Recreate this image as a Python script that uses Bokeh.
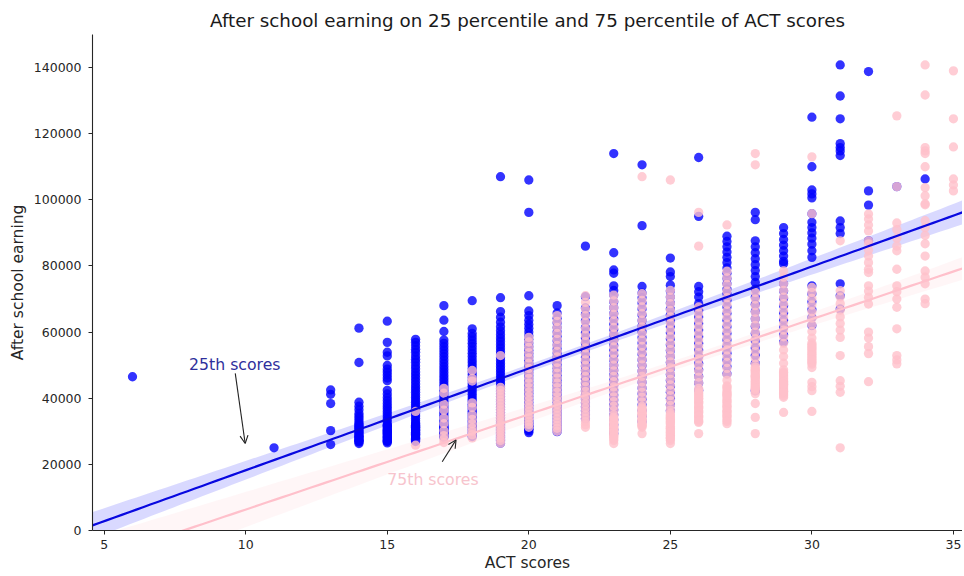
import numpy as np
from bokeh.plotting import figure
from bokeh.models import Range1d, Label, Arrow, OpenHead, FixedTicker, BasicTickFormatter, ColumnDataSource
from bokeh.embed import file_html
from bokeh.resources import INLINE

# ---------------- data (earnings in thousands of dollars) ----------------
# After-school earnings of colleges, grouped by the 25th-percentile ACT score
b06 = [46.5]
b11 = [25.0]
b13 = [42.5, 41.2, 38.4, 30.2, 26.0]
b14 = [61.2, 50.8, 38.8, 37.6, 36.5, 35.4, 34.6, 33.9, 33.1, 32.4, 31.6, 30.9, 30.1, 29.3, 28.5, 27.7, 27.0, 26.3,
       26.8, 27.3, 28.1, 28.9, 29.7, 30.5, 31.3, 32.0, 27.4, 28.4]
b15 = [63.3, 56.9, 53.9, 52.8, 49.9, 48.8, 47.9, 47.0, 46.1, 45.3, 42.4, 41.3, 40.2, 39.3, 38.4, 37.6, 36.8, 36.0,
       35.2, 34.4, 33.6, 32.8, 32.0, 31.2, 30.4, 29.6, 28.8, 28.0, 27.2, 26.5,
       26.9, 27.6, 28.4, 29.2, 30.0, 30.8, 31.6, 27.1, 28.2, 29.4, 30.2, 31.8]
b16 = [57.8, 56.9, 55.9, 54.8, 53.9, 52.8, 51.8, 50.9, 49.8, 48.9, 47.9, 47.0, 46.1, 45.2, 44.3, 43.4, 42.6, 41.8,
       41.0, 40.2, 39.5, 38.8, 38.1, 37.4, 36.7, 36.0, 35.3, 34.6, 33.9, 33.2, 32.5, 31.8, 31.1, 30.4, 29.7, 29.0,
       28.3, 27.6, 26.9, 27.2, 28.0, 28.7, 29.4, 30.1, 30.8, 31.5, 32.2, 27.8, 29.0, 30.4, 31.2]
b17 = [68.0, 63.6, 60.2, 57.6, 56.6, 55.6, 54.6, 53.6, 52.6, 51.6, 50.6, 49.6, 48.7, 47.8, 46.9, 46.0, 45.1, 44.2,
       43.4, 42.6, 41.8, 41.0, 40.2, 39.4, 38.7, 38.0, 37.3, 36.6, 35.9, 35.2, 34.5, 33.8, 33.1, 32.4, 31.7, 31.0,
       30.3, 29.6, 28.9, 28.2, 28.5, 29.2, 29.9, 30.6, 31.4, 32.1, 29.5, 30.9]
b18 = [69.5, 61.0, 59.6, 58.6, 57.6, 56.6, 55.6, 54.6, 53.6, 52.6, 51.6, 50.7, 49.8, 48.9, 48.0, 47.1, 46.2, 45.3,
       44.4, 43.6, 42.8, 42.0, 41.2, 40.4, 39.6, 38.9, 38.2, 37.5, 36.8, 36.1, 35.4, 34.7, 34.0, 33.3, 32.6, 31.9,
       31.2, 30.5, 29.8, 29.1, 28.4]
b19 = [107.0, 70.4, 66.2, 64.5, 63.0, 61.6, 60.4, 59.3, 58.2, 57.2, 56.2, 55.2, 54.2, 53.3, 52.4, 51.5, 50.6, 49.7,
       48.8, 47.9, 47.0, 46.1, 45.3, 44.5, 43.7, 42.9, 42.1, 41.3, 40.5, 39.7, 38.9, 38.1, 37.3, 36.5, 35.7, 34.9,
       34.1, 33.3, 32.5, 31.7, 30.9, 30.1, 29.3, 28.5, 27.7, 26.4, 27.1, 28.1, 28.9, 29.7, 30.5, 31.3, 32.1, 27.4]
b20 = [106.0, 96.2, 71.0, 66.4, 65.0, 63.6, 62.4, 61.2, 60.0, 58.9, 57.8, 56.7, 55.6, 54.5, 53.5, 52.5, 51.5, 50.5,
       49.5, 48.6, 47.7, 46.8, 45.9, 45.0, 44.1, 43.2, 42.3, 41.4, 40.5, 39.6, 38.7, 37.8, 36.9, 36.0, 35.1, 34.2,
       33.3, 32.4, 31.5, 30.6, 29.6, 30.1, 31.0, 31.9, 32.8, 30.6, 31.5]
b21 = [68.0, 65.8, 64.2, 62.8, 61.4, 60.0, 58.7, 57.4, 56.1, 54.9, 53.7, 52.5, 51.3, 50.2, 49.1, 48.0, 46.9, 45.8,
       44.8, 43.8, 42.8, 41.8, 40.8, 39.8, 38.8, 37.8, 36.8, 35.8, 34.8, 33.8, 32.8, 31.8, 30.8, 29.9]
b22 = [86.0, 70.7, 67.3, 65.4, 63.4, 61.4, 59.8, 58.2, 56.7, 55.2, 53.8, 52.4, 51.0, 49.7, 48.4, 47.1, 45.8, 44.6,
       43.4, 42.2, 41.0, 39.8, 38.6, 37.4, 36.2, 35.0, 33.8]
b23 = [114.0, 84.0, 78.8, 77.8, 74.0, 72.6, 71.2, 69.2, 67.4, 65.6, 64.0, 62.4, 60.8, 59.2, 57.6, 56.0, 54.5, 53.0,
       51.5, 50.0, 48.5, 47.0, 45.5, 44.0, 42.5, 41.0, 39.5, 38.0, 36.5, 35.0, 33.5, 32.0, 30.5, 29.3]
b24 = [110.6, 92.2, 73.8, 71.8, 70.4, 68.8, 67.0, 65.2, 63.5, 61.8, 60.1, 58.4, 56.7, 55.0, 53.3, 51.6, 49.9, 48.2,
       46.5, 44.8, 43.1, 41.4, 39.7, 38.0, 36.3, 34.6, 33.0]
b25 = [82.4, 78.2, 76.8, 74.2, 72.4, 70.6, 68.8, 67.0, 65.2, 63.4, 61.6, 59.8, 58.0, 56.2, 54.4, 52.6, 50.8, 49.0,
       47.2, 45.4, 43.6, 41.8, 40.0, 38.0, 36.2]
b26 = [112.8, 95.0, 73.8, 72.2, 70.6, 68.6, 66.6, 64.6, 62.6, 60.6, 58.6, 56.6, 54.6, 52.6, 50.6, 48.6, 46.6, 44.6, 42.4]
b27 = [89.0, 87.4, 85.8, 84.2, 82.6, 81.0, 79.4, 77.8, 76.2, 74.6, 73.0, 71.6, 69.6, 67.6, 65.6, 63.6, 61.6, 59.6,
       57.6, 55.6, 53.6, 51.6, 49.6, 47.4]
b28 = [96.2, 94.0, 87.6, 85.8, 84.0, 82.2, 80.4, 78.6, 76.8, 75.0, 73.0, 70.6, 68.4, 66.2, 64.0, 61.8, 59.6, 57.4,
       55.2, 53.0, 50.6, 42.3]
b29 = [91.6, 89.8, 88.0, 86.3, 84.6, 83.0, 81.4, 80.7, 74.6, 72.4, 70.2, 68.0, 65.8, 63.6, 61.4, 59.2, 57.0]
b30 = [125.0, 110.0, 103.0, 101.8, 100.6, 95.8, 93.2, 91.6, 90.0, 88.4, 86.6, 84.6, 82.6, 74.0, 71.6, 69.2, 66.8,
       64.4, 62.0]
b31 = [140.8, 131.4, 124.5, 117.0, 115.8, 114.8, 113.4, 93.6, 91.6, 89.8, 74.6, 71.0, 67.0]
b32 = [138.8, 102.7, 98.4, 87.6]
b33 = [104.0]
b34 = [106.3]

# After-school earnings of colleges, grouped by the 75th-percentile ACT score
p16 = [36.0, 25.8]
p17 = [43.0, 41.5, 38.2, 36.4, 34.0, 32.3, 30.2, 28.7, 27.6, 26.6]
p18 = [48.4, 46.0, 45.2, 38.6, 37.2, 35.0, 33.6, 32.3, 31.0, 30.0, 29.0, 28.0]
p19 = [52.9, 43.3, 42.4, 41.4, 40.4, 39.4, 38.4, 37.4, 36.5, 35.6, 34.7, 33.8, 32.9, 32.0, 31.2, 30.4, 29.6, 28.8,
       28.0, 27.2, 26.4]
p20 = [58.4, 57.0, 55.4, 53.8, 52.2, 50.6, 49.0, 47.5, 46.0, 44.6, 43.2, 41.9, 40.6, 39.4, 38.2, 37.1, 36.0, 35.0,
       34.0, 33.0, 32.1, 31.2]
p21 = [65.0, 63.2, 61.4, 59.6, 57.8, 56.0, 54.2, 52.5, 50.8, 49.2, 47.6, 46.1, 44.6, 43.2, 41.8, 40.5, 39.3, 38.1,
       37.0, 35.9, 34.8, 33.8, 32.8, 31.8, 30.9, 30.0]
p22 = [71.0, 69.0, 67.0, 65.0, 63.0, 61.0, 59.0, 57.1, 55.2, 53.4, 51.6, 49.9, 48.2, 46.6, 45.0, 43.5, 42.1, 40.8,
       39.5, 38.3, 37.1, 36.0, 34.9, 33.9, 32.9, 32.0, 31.2]
p23 = [71.2, 69.4, 67.4, 65.4, 63.4, 61.4, 59.4, 57.4, 55.5, 53.6, 51.8, 50.0, 48.3, 46.6, 45.0, 43.4, 41.9, 40.4,
       39.0, 37.6, 36.3, 35.0, 33.8, 32.6, 31.4, 30.3, 29.2, 28.2, 27.2, 26.3,
       33.5, 33.0, 32.2, 31.7, 31.0, 30.7, 30.0, 29.6, 28.8, 28.6, 27.7, 34.3]
p24 = [107.0, 71.6, 69.6, 67.6, 65.6, 63.6, 61.6, 59.6, 57.6, 55.7, 53.8, 51.9, 50.1, 48.3, 46.6, 44.9, 43.3, 41.8,
       40.3, 38.9, 37.5, 36.2, 35.0, 33.8, 32.3, 29.3,
       36.6, 35.6, 34.4, 33.4, 32.8, 31.6, 31.2, 36.0, 34.9, 33.0, 32.0, 35.2, 37.0, 33.8, 31.9]
p25 = [106.0, 72.6, 70.6, 68.6, 66.6, 64.6, 62.6, 60.6, 58.6, 56.6, 54.7, 52.8, 51.0, 49.2, 47.4, 45.7, 44.0, 42.4,
       40.8, 39.3, 37.8, 36.4, 35.0, 33.6, 32.2, 30.9, 29.6, 28.3, 27.2, 26.3,
       34.6, 33.9, 32.9, 31.5, 30.4, 29.2, 28.8, 27.8, 34.2, 33.2, 31.0, 29.9, 28.0, 35.6, 32.6]
p26 = [96.2, 86.0, 67.6, 65.6, 63.6, 61.6, 59.6, 57.6, 55.7, 53.8, 51.9, 50.0, 48.2, 46.4, 44.7, 43.0, 41.4, 39.8,
       38.3, 36.9, 35.5, 34.1, 32.7, 29.3,
       41.9, 41.0, 40.6, 39.1, 38.8, 37.6, 37.2, 36.2, 35.8, 34.8, 34.5, 33.4, 33.0, 40.0, 42.4]
p27 = [92.4, 78.4, 76.4, 74.4, 72.4, 70.4, 68.4, 66.4, 64.4, 62.4, 60.4, 58.4, 56.5, 54.6, 52.7, 50.8, 49.0, 47.2,
       45.4, 43.7, 42.0, 40.4, 38.8, 37.2, 35.7, 34.2, 32.3,
       42.8, 41.2, 39.6, 38.0, 36.4, 35.0, 33.4, 41.6, 39.2, 37.6, 36.0, 34.6, 33.0, 43.4, 40.8]
p28 = [114.0, 110.6, 72.0, 70.0, 68.0, 66.0, 64.0, 62.0, 60.0, 58.0, 56.0, 54.1, 52.2, 50.3, 48.5, 46.7, 44.9, 43.1,
       41.4, 38.4, 34.2, 29.3,
       48.8, 48.0, 47.6, 46.2, 45.8, 44.4, 44.0, 42.6, 42.2, 49.4, 47.0, 45.2, 43.6, 43.0, 46.6]
p29 = [78.5, 76.6, 74.6, 72.6, 70.6, 68.6, 66.6, 64.6, 62.6, 60.6, 58.6, 56.6, 54.6, 52.6, 50.6, 48.6, 46.5, 44.4,
       42.3, 40.3, 35.7,
       47.6, 45.5, 43.4, 41.3, 47.0, 46.0, 44.9, 42.8, 41.8, 40.8, 45.0, 43.9, 47.9, 42.0, 44.2]
p30 = [113.0, 95.8, 73.5, 72.0, 70.2, 68.2, 66.2, 64.2, 62.2, 60.2, 58.2, 56.2, 54.2, 52.2, 50.3, 49.3, 44.8, 43.5,
       42.3, 36.0, 55.2, 53.2, 51.2, 50.8, 54.8, 53.7, 52.7, 51.7, 56.7, 55.7]
p31 = [87.6, 72.5, 70.6, 68.6, 66.6, 64.6, 62.6, 60.6, 58.4, 52.9, 45.3, 43.6, 41.8, 25.0]
p32 = [95.7, 94.2, 92.4, 90.6, 87.6, 86.7, 84.8, 83.0, 81.0, 79.0, 78.0, 74.0, 72.4, 70.5, 68.5, 60.0, 58.2, 55.6,
       53.5, 45.0]
p33 = [125.4, 104.0, 93.0, 91.0, 88.4, 86.0, 84.6, 79.0, 74.0, 72.2, 70.0, 67.5, 61.0, 52.9, 51.6, 50.4]
p34 = [140.8, 131.7, 115.8, 114.8, 114.0, 110.0, 103.7, 101.2, 98.8, 98.5, 93.7, 91.6, 89.2, 86.7, 83.0, 78.5,
       76.6, 74.6, 70.0, 68.6]
p35 = [139.0, 124.5, 116.0, 106.3, 104.5, 102.7]

act25_scores = [6, 11, 13, 14, 15, 16, 17, 18, 19, 20, 21, 22, 23, 24, 25, 26, 27, 28, 29, 30, 31, 32, 33, 34]
act25_groups = [b06, b11, b13, b14, b15, b16, b17, b18, b19, b20, b21, b22, b23, b24, b25, b26, b27, b28, b29,
                b30, b31, b32, b33, b34]
act75_scores = [16, 17, 18, 19, 20, 21, 22, 23, 24, 25, 26, 27, 28, 29, 30, 31, 32, 33, 34, 35]
act75_groups = [p16, p17, p18, p19, p20, p21, p22, p23, p24, p25, p26, p27, p28, p29, p30, p31, p32, p33, p34, p35]

x_ticks = [5, 10, 15, 20, 25, 30, 35]
y_ticks = [0, 20000, 40000, 60000, 80000, 100000, 120000, 140000]

# annotation anchors (text position, arrow tail, arrow head) in data units
ann25_text = (8, 50300)
ann25_tail = (9.63, 47500)
ann25_head = (9.98, 26300)
ann75_text = (15, 15300)
ann75_tail = (16.94, 20800)
ann75_head = (17.43, 27400)

X_LO, X_HI = 4.587, 35.32
Y_LO, Y_HI = 0, 150000


def flatten(scores, groups):
    xs, ys = [], []
    for s, g in zip(scores, groups):
        for v in g:
            xs.append(float(s))
            ys.append(v * 1000.0)
    return np.array(xs), np.array(ys)


def regression(x, y, grid):
    n = len(x)
    xm = x.mean()
    sxx = ((x - xm) ** 2).sum()
    b = ((x - xm) * (y - y.mean())).sum() / sxx
    a = y.mean() - b * xm
    resid = y - (a + b * x)
    s = np.sqrt((resid ** 2).sum() / (n - 2))
    yhat = a + b * grid
    se = s * np.sqrt(1.0 / n + (grid - xm) ** 2 / sxx)
    return yhat, yhat - 1.96 * se, yhat + 1.96 * se


x25, y25 = flatten(act25_scores, act25_groups)
x75, y75 = flatten(act75_scores, act75_groups)
grid = np.linspace(X_LO, X_HI, 120)
f25, lo25, hi25 = regression(x25, y25, grid)
f75, lo75, hi75 = regression(x75, y75, grid)

FONT = "DejaVu Sans"
p = figure(width=962, height=574, x_range=Range1d(X_LO, X_HI), y_range=Range1d(Y_LO, Y_HI),
           output_backend="svg", toolbar_location=None,
           title="After school earning on 25 percentile and 75 percentile of ACT scores",
           min_border_left=92, min_border_right=0, min_border_top=34, min_border_bottom=44)
p.outline_line_color = None
p.grid.visible = False
p.background_fill_color = "white"
p.border_fill_color = "white"

p.title.text_font = FONT
p.title.text_font_size = "18.3px"
p.title.text_font_style = "normal"
p.title.text_color = "#1a1a1a"
p.title.align = "center"
p.title.standoff = 7

for ax in (p.xaxis[0], p.yaxis[0]):
    ax.axis_line_color = "#262626"
    ax.axis_line_width = 1.1
    ax.major_tick_line_color = "#262626"
    ax.major_tick_out = 4
    ax.major_tick_in = 0
    ax.minor_tick_line_color = None
    ax.major_label_text_font = FONT
    ax.major_label_text_font_size = "12.5px"
    ax.major_label_text_color = "#262626"
    ax.axis_label_text_font = FONT
    ax.axis_label_text_font_size = "15.5px"
    ax.axis_label_text_font_style = "normal"
    ax.axis_label_text_color = "#262626"

p.xaxis.axis_label = "ACT scores"
p.yaxis.axis_label = "After school earning"
p.xaxis.ticker = FixedTicker(ticks=x_ticks)
p.yaxis.ticker = FixedTicker(ticks=y_ticks)
p.yaxis.formatter = BasicTickFormatter(use_scientific=False)
p.xaxis.major_label_standoff = 5
p.xaxis.axis_label_standoff = 2
p.yaxis.major_label_standoff = 7
p.yaxis.axis_label_standoff = 4

BLUE = "#0000ff"
PINK = "#ffc0cb"
src25 = ColumnDataSource(dict(x=x25, y=y25))
src75 = ColumnDataSource(dict(x=x75, y=y75))
fit25 = ColumnDataSource(dict(x=grid, y=f25, lo=lo25, hi=hi25))
fit75 = ColumnDataSource(dict(x=grid, y=f75, lo=lo75, hi=hi75))

p.scatter("x", "y", source=src25, size=9.3, fill_color=BLUE, fill_alpha=0.8, line_color=None)
p.varea(x="x", y1="lo", y2="hi", source=fit25, fill_color=BLUE, fill_alpha=0.15)
p.scatter("x", "y", source=src75, size=9.3, fill_color=PINK, fill_alpha=0.8, line_color=None)
p.varea(x="x", y1="lo", y2="hi", source=fit75, fill_color=PINK, fill_alpha=0.15)
p.line("x", "y", source=fit25, line_color="#0808e0", line_width=2.2)
p.line("x", "y", source=fit75, line_color=PINK, line_width=2.2)

p.add_layout(Label(x=ann25_text[0], y=ann25_text[1], text="25th scores", text_font=FONT,
                   text_font_size="15.7px", text_color="#2f2f9c", text_baseline="alphabetic", text_align="left"))
p.add_layout(Label(x=ann75_text[0], y=ann75_text[1], text="75th scores", text_font=FONT,
                   text_font_size="15.7px", text_color="#f7c4cd", text_baseline="alphabetic", text_align="left"))
for tail, head in ((ann25_tail, ann25_head), (ann75_tail, ann75_head)):
    p.add_layout(Arrow(end=OpenHead(size=8, line_color="#222222", line_width=1.1),
                       x_start=tail[0], y_start=tail[1], x_end=head[0], y_end=head[1],
                       line_color="#222222", line_width=1.1))

open("out.html", "w").write(file_html(p, INLINE))
